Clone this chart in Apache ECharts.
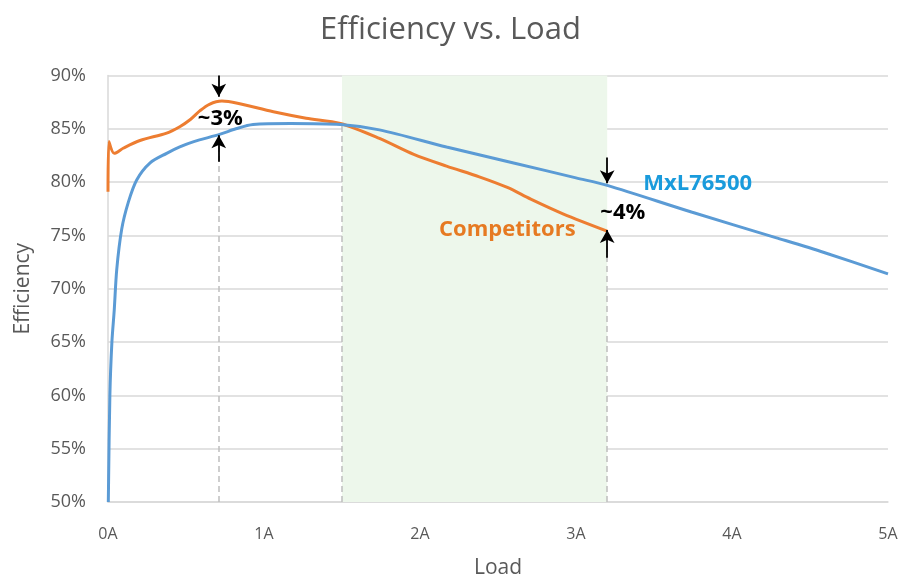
<!DOCTYPE html>
<html>
<head>
<meta charset="utf-8">
<script src="https://cdn.jsdelivr.net/npm/echarts@6/dist/echarts.min.js"></script>
<style>
  html, body { margin: 0; padding: 0; background: #fff; }
  #main { width: 901px; height: 584px; }
</style>
</head>
<body>
<div id="main"></div>
<script>
// load in amps, efficiency in percent
const mxlLoad = [0.002, 0.012, 0.025, 0.04, 0.056, 0.088, 0.13, 0.184, 0.27, 0.376, 0.46, 0.55, 0.72, 0.82, 0.93, 1.17, 1.49, 1.74, 2.17, 2.6, 3.0, 3.2, 3.74, 4.28, 4.59, 5.0];
const mxlEff = [50, 60, 65, 68, 71.8, 75.6, 78.1, 80.2, 81.8, 82.7, 83.3, 83.8, 84.5, 85.0, 85.4, 85.5, 85.4, 84.9, 83.3, 81.8, 80.4, 79.7, 77.2, 74.8, 73.4, 71.4];

const compLoad = [0, 0.006, 0.04, 0.1, 0.205, 0.376, 0.46, 0.53, 0.59, 0.65, 0.73, 0.83, 1.06, 1.27, 1.49, 1.74, 1.96, 2.17, 2.38, 2.56, 2.71, 2.92, 3.2];
const compEff = [79.1, 83.8, 82.7, 83.2, 83.9, 84.6, 85.2, 85.9, 86.7, 87.3, 87.6, 87.4, 86.6, 86.0, 85.5, 84.1, 82.6, 81.5, 80.5, 79.5, 78.4, 77.0, 75.4];

const xTicks = ['0A', '1A', '2A', '3A', '4A', '5A'];
const yTicks = ['50%', '55%', '60%', '65%', '70%', '75%', '80%', '85%', '90%'];

// highlighted load window and gap markers
const band = [1.5, 3.2];
const gapLoad = [0.71, 3.2];
const gapTop = [[90, 88.0], [82.3, 79.9]];     // down arrows (start, tip)
const gapBottom = [[81.9, 84.4], [72.9, 75.5]]; // up arrows (start, tip)
const gapText = ['~3%', '~4%'];
const gapTextPos = [[0.72, 85.9], [3.3, 77.15]];
const dashLoad = [0.71, 1.5, 3.2];
const dashTop = [84.4, 85.4, 75.4];

const myChart = echarts.init(document.getElementById('main'));

const pairs = (xs, ys) => xs.map((x, i) => [x, ys[i]]);

const option = {
  animation: false,
  title: {
    text: 'Efficiency vs. Load',
    left: 'center',
    top: 10,
    textStyle: { fontFamily: 'Open Sans', fontSize: 31, fontWeight: 'normal', color: '#595959' }
  },
  grid: { left: 108, right: 13, top: 75.5, bottom: 80.5 },
  xAxis: {
    type: 'value',
    min: 0,
    max: 5,
    interval: 1,
    name: 'Load',
    nameLocation: 'middle',
    nameGap: 56,
    nameTextStyle: { fontFamily: 'Open Sans', fontSize: 21, color: '#595959' },
    axisLine: { lineStyle: { color: '#d9d9d9', width: 1.5 } },
    axisTick: { show: false },
    splitLine: { show: false },
    axisLabel: {
      margin: 24,
      fontFamily: 'Open Sans',
      fontSize: 16,
      color: '#595959',
      formatter: (v) => xTicks[Math.round(v)]
    }
  },
  yAxis: {
    type: 'value',
    min: 50,
    max: 90,
    interval: 5,
    name: 'Efficiency',
    nameLocation: 'middle',
    nameGap: 74,
    nameTextStyle: { fontFamily: 'Open Sans', fontSize: 21, color: '#595959' },
    axisLine: { show: true, lineStyle: { color: '#d9d9d9', width: 1.5 } },
    axisTick: { show: false },
    splitLine: { lineStyle: { color: '#d9d9d9', width: 1.5 } },
    axisLabel: {
      margin: 22,
      fontFamily: 'Open Sans',
      fontSize: 18,
      color: '#595959',
      formatter: (v) => yTicks[Math.round((v - 50) / 5)]
    }
  },
  series: [
    {
      name: 'MxL76500',
      type: 'line',
      data: pairs(mxlLoad, mxlEff),
      smooth: 0.3,
      symbol: 'none',
      z: 3,
      lineStyle: { color: '#5b9bd5', width: 3 },
      markArea: {
        silent: true,
        itemStyle: { color: '#edf7eb' },
        data: [[{ xAxis: band[0] }, { xAxis: band[1] }]]
      },
      markLine: {
        silent: true,
        symbol: 'none',
        label: { show: false },
        lineStyle: { color: '#bfbfbf', width: 1.5, type: [6, 4] },
        data: dashLoad.map((x, i) => [{ coord: [x, 50] }, { coord: [x, dashTop[i]] }])
      },
      markPoint: {
        silent: true,
        symbol: 'circle',
        symbolSize: 0,
        label: {
          show: true,
          position: 'inside',
          fontFamily: 'Open Sans',
          fontSize: 22,
          fontWeight: 'bold',
          color: '#1a9bdc'
        },
        data: [{ coord: [3.78, 79.86], value: 'MxL76500' }]
      }
    },
    {
      name: 'Competitors',
      type: 'line',
      data: pairs(compLoad, compEff),
      smooth: 0.3,
      symbol: 'none',
      z: 2,
      lineStyle: { color: '#ed7d31', width: 3 },
      markPoint: {
        silent: true,
        symbol: 'circle',
        symbolSize: 0,
        label: {
          show: true,
          position: 'inside',
          fontFamily: 'Open Sans',
          fontSize: 22,
          fontWeight: 'bold',
          color: '#e67a22'
        },
        data: [{ coord: [2.56, 75.56], value: 'Competitors' }]
      }
    },
    {
      name: 'gaps',
      type: 'line',
      data: [],
      z: 4,
      markLine: {
        silent: true,
        symbol: ['none', 'arrow'],
        symbolSize: [11, 13],
        label: { show: false },
        lineStyle: { color: '#000', width: 1.8, type: 'solid' },
        data: gapLoad.flatMap((x, i) => [
          [{ coord: [x, gapTop[i][0]] }, { coord: [x, gapTop[i][1]] }],
          [{ coord: [x, gapBottom[i][0]] }, { coord: [x, gapBottom[i][1]] }]
        ])
      },
      markPoint: {
        silent: true,
        symbol: 'circle',
        symbolSize: 0,
        label: {
          show: true,
          position: 'inside',
          fontFamily: 'Open Sans',
          fontSize: 22,
          fontWeight: 'bold',
          color: '#000'
        },
        data: gapText.map((t, i) => ({ coord: gapTextPos[i], value: t }))
      }
    }
  ]
};

myChart.setOption(option);
</script>
</body>
</html>
